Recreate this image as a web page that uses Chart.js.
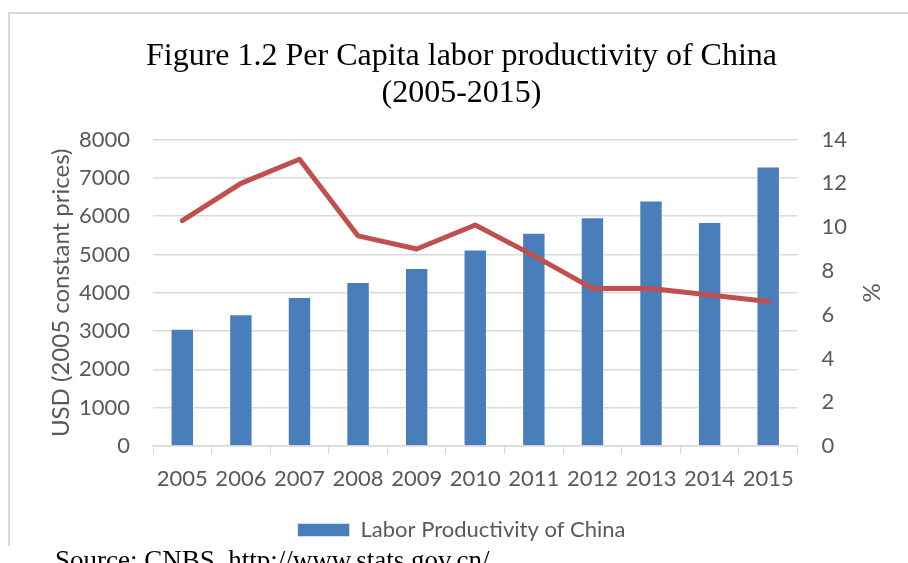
<!DOCTYPE html>
<html>
<head>
<meta charset="utf-8">
<script src="https://cdn.jsdelivr.net/npm/chart.js@4/dist/chart.umd.min.js"></script>
<style>
    body { margin: 0; background: #fff; }
    #wrap { position: relative; width: 908px; height: 563px; overflow: hidden; }
    #frame { position: absolute; left: 8px; top: 12px; width: 940px; height: 534px; border: 2px solid #d9d9d9; border-bottom: none; box-sizing: border-box; }
    #chartBox { position: absolute; left: 0; top: 0; width: 908px; height: 563px; }
    #source { position: absolute; left: 55px; top: 545px; font-family: "Liberation Serif", serif; font-size: 27px; color: #000; white-space: nowrap; }
</style>
</head>
<body>
<div id="wrap">
    <div id="frame"></div>
    <div id="chartBox"><canvas id="myChart"></canvas></div>
    <div id="source">Source: CNBS, http://www.stats.gov.cn/</div>
</div>
<script>
const years = ['2005', '2006', '2007', '2008', '2009', '2010', '2011', '2012', '2013', '2014', '2015'];
const productivity = [3060, 3440, 3890, 4280, 4650, 5130, 5570, 5970, 6410, 5850, 7300];
const growthRate = [10.3, 12.0, 13.1, 9.6, 9.0, 10.1, 8.7, 7.2, 7.2, 6.9, 6.6];

const gray = '#595959';
const gridGray = '#d9d9d9';
const sans = 'Lato';

const ctx = document.getElementById('myChart').getContext('2d');
const myChart = new Chart(ctx, {
    data: {
        labels: years,
        datasets: [{
            type: 'line',
            label: 'Growth rate',
            data: growthRate,
            yAxisID: 'y1',
            borderColor: '#c0504d',
            backgroundColor: '#c0504d',
            borderWidth: 5,
            borderCapStyle: 'round',
            borderJoinStyle: 'round',
            pointRadius: 0,
            tension: 0
        }, {
            type: 'bar',
            label: 'Labor Productivity of China',
            data: productivity,
            yAxisID: 'y',
            backgroundColor: '#4a7ebb',
            borderColor: 'rgba(255, 255, 255, 0.5)',
            borderWidth: 1,
            barPercentage: 0.4,
            categoryPercentage: 1
        }]
    },
    options: {
        responsive: true,
        maintainAspectRatio: false,
        animation: false,
        layout: { padding: { top: 0, left: 15, right: 0, bottom: 12 } },
        plugins: {
            title: {
                display: true,
                text: ['Figure 1.2 Per Capita labor productivity of China', '(2005-2015)'],
                color: '#000',
                font: { family: 'Liberation Serif', size: 32, weight: 'normal', lineHeight: 1.15 },
                padding: { top: 38, bottom: 28 }
            },
            legend: {
                position: 'bottom',
                labels: {
                    filter: item => item.text === 'Labor Productivity of China',
                    color: gray,
                    font: { family: sans, size: 22 },
                    boxWidth: 52,
                    boxHeight: 13,
                    padding: 8
                }
            },
            tooltip: { enabled: false }
        },
        scales: {
            x: {
                grid: { display: true, drawOnChartArea: false, color: gridGray, tickLength: 8, offset: true },
                border: { color: gridGray, width: 1.5 },
                ticks: { color: gray, font: { family: sans, size: 22 }, padding: 12, maxRotation: 0 },
                afterFit: scale => { scale.height = 65; }
            },
            y: {
                position: 'left',
                min: 0,
                max: 8000,
                ticks: { stepSize: 1000, color: gray, font: { family: sans, size: 22 }, padding: 23, callback: v => String(v) },
                grid: { color: gridGray, lineWidth: 1.5, drawTicks: false },
                border: { display: false },
                title: {
                    display: true,
                    text: 'USD (2005 constant prices)',
                    color: gray,
                    font: { family: sans, size: 24 },
                    padding: { top: 32 }
                },
                afterFit: scale => { scale.width = 138; }
            },
            y1: {
                position: 'right',
                min: 0,
                max: 14,
                ticks: { stepSize: 2, color: gray, font: { family: sans, size: 22 }, padding: 24 },
                grid: { drawOnChartArea: false, drawTicks: false },
                border: { display: false },
                title: {
                    display: true,
                    text: '%',
                    color: gray,
                    font: { family: sans, size: 24 },
                    padding: { top: 23 }
                },
                afterFit: scale => { scale.width = 110.5; }
            }
        }
    }
});
</script>
</body>
</html>
